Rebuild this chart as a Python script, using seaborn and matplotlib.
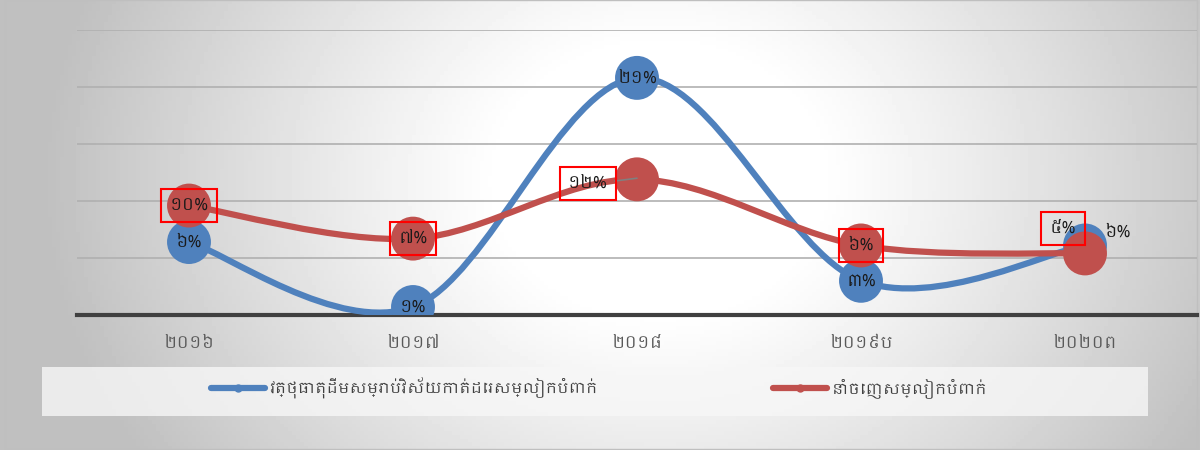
import matplotlib
matplotlib.use("Agg")
import matplotlib.pyplot as plt
import seaborn as sns
import numpy as np
import pandas as pd
from matplotlib import font_manager
from matplotlib.path import Path
from matplotlib.patches import PathPatch, Rectangle
from matplotlib.lines import Line2D

years = ["២០១៦", "២០១៧", "២០១៨", "២០១៩ប", "២០២០ព"]
materials = [6.4, 0.7, 20.8, 3.0, 6.1]
exports = [9.6, 6.7, 11.9, 6.1, 5.4]
materials_lbl = ["៦%", "១%", "២១%", "៣%", "៦%"]
exports_lbl = ["១០%", "៧%", "១២%", "៦%", "៥%"]
series_names = ["វត្ថុធាតុដើមសម្រាប់វិស័យកាត់ដេរសម្លៀកបំពាក់", "នាំចេញសម្លៀកបំពាក់"]

BLUE = "#4F81BD"
RED = "#C0504D"

sns.set_style("white")
khmer = sorted({f.name for f in font_manager.fontManager.ttflist if "khmer" in f.name.lower()})
plt.rcParams["font.family"] = khmer + ["DejaVu Sans"]


def smooth_path(xs, ys):
    # bezier curve like Excel's "smoothed line"
    p = np.column_stack([xs, ys]).astype(float)
    p_ext = np.vstack([p[0], p, p[-1]])
    verts = [p[0]]
    codes = [Path.MOVETO]
    for i in range(len(p) - 1):
        p0, p1, p2, p3 = p_ext[i], p_ext[i + 1], p_ext[i + 2], p_ext[i + 3]
        c1 = p1 + (p2 - p0) / 6
        c2 = p2 - (p3 - p1) / 6
        verts += [c1, c2, p2]
        codes += [Path.CURVE4] * 3
    return Path(verts, codes)


fig = plt.figure(figsize=(12, 4.5), dpi=100)

# radial grey background
bg = fig.add_axes([0, 0, 1, 1], zorder=-10)
gx, gy = np.meshgrid(np.linspace(0, 1200, 300), np.linspace(0, 450, 120))
r = np.sqrt((gx - 660) ** 2 + ((gy - 180) * 1.2) ** 2)
shade = 1 - 0.25 * np.clip((r - 160) / 460, 0, 1) ** 1.1
bg.imshow(shade, cmap="gray", vmin=0, vmax=1, extent=[0, 1200, 450, 0], aspect="auto")
bg.add_patch(Rectangle((5, 0), 1192, 449, fill=False, ec="#BFBFBF", lw=1))
bg.set_xlim(0, 1200)
bg.set_ylim(450, 0)
bg.axis("off")

ax = fig.add_axes([77 / 1200, 1 - 315 / 450, 1120 / 1200, 285 / 450])
ax.patch.set_alpha(0)
x = np.arange(len(years))
df = pd.DataFrame({"x": np.concatenate([x, x]),
                   "v": materials + exports,
                   "s": [series_names[0]] * 5 + [series_names[1]] * 5})

for k, (vals, col) in enumerate([(materials, BLUE), (exports, RED)]):
    ax.add_patch(PathPatch(smooth_path(x, vals), fc="none", ec=col, lw=4.5,
                           capstyle="round", zorder=3 + 2 * k))
    sns.scatterplot(data=df[df.s == series_names[k]], x="x", y="v", color=col,
                    s=1000, edgecolor="none", ax=ax, zorder=4 + 2 * k, legend=False)

txt = "#1a1a1a"
for i, v in enumerate(materials):
    off = (0, 0) if i < 4 else (33, 13)
    ax.annotate(materials_lbl[i], (i, v), xytext=off, textcoords="offset pixels",
                ha="center", va="center", fontsize=12, color=txt, zorder=10)

box = dict(boxstyle="square,pad=0.5", fc="none", ec="#FF0000", lw=1.5)
red_off = [(0, 0), (0, 0), (-49, -4), (0, 0), (-22, 25)]
for i, v in enumerate(exports):
    ax.annotate(exports_lbl[i], (i, v), xytext=red_off[i], textcoords="offset pixels",
                ha="center", va="center", fontsize=12, color=txt, zorder=10, bbox=box)
ax.plot([2 - 0.1, 2], [exports[2] - 0.15, exports[2] + 0.1], color="#808080", lw=1.2, zorder=9)

ax.set_xlim(-0.5, 4.5)
ax.set_ylim(0, 25)
ax.set_yticks([5, 10, 15, 20, 25])
ax.yaxis.grid(True, color="#B0B0B0", lw=1.2)
ax.set_yticklabels([])
ax.tick_params(left=False, bottom=False)
ax.set_xticks(x)
ax.set_xticklabels(years, fontsize=12, color="#595959")
ax.tick_params(axis="x", pad=11)
for s in ["top", "right", "left"]:
    ax.spines[s].set_visible(False)
ax.spines["bottom"].set_color("#404040")
ax.spines["bottom"].set_linewidth(3)
ax.spines["bottom"].set_zorder(2)
ax.set_xlabel("")
ax.set_ylabel("")
ax.set_axisbelow(True)

# legend
bg.add_patch(Rectangle((42, 367), 1106, 49, fc="#F7F7F7", ec="none", alpha=0.8))
handles = [Line2D([], [], color=BLUE, lw=4.5, marker="o", ms=5),
           Line2D([], [], color=RED, lw=4.5, marker="o", ms=5)]
fig.legend(handles, series_names, loc="center", bbox_to_anchor=(599 / 1200, 1 - 388 / 450),
           ncol=2, frameon=False, fontsize=11, handlelength=3.5, columnspacing=11.5,
           labelcolor="#404040", handletextpad=0.3)

fig.savefig("out.png", dpi=100)
